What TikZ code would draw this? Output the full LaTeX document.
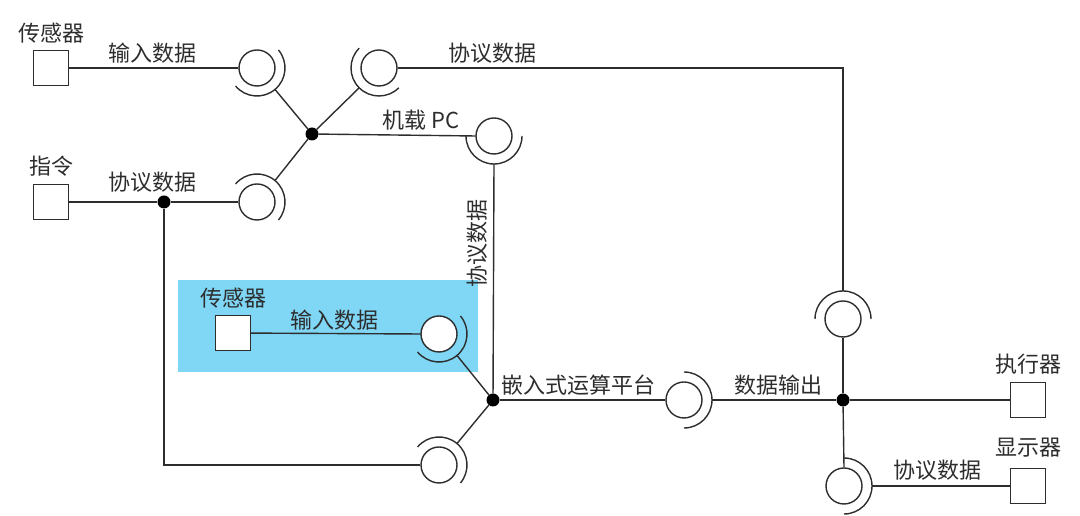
\documentclass[tikz,border=0pt]{standalone}
\usepackage{fontspec}
\setmainfont{Noto Sans CJK SC}
\usetikzlibrary{calc}
\definecolor{ln}{RGB}{45,45,45}
\definecolor{hl}{RGB}{127,214,245}
\newcommand\AsmConn[4]{%
  \node[ball] (#1) at (#2,#3) {};
  \draw[wire] ($(#1.center)+(#4+90:28)$) arc[start angle=#4+90, end angle=#4-90, radius=28];
  \coordinate (#1s) at ($(#1.center)+(#4:28)$);
}
\begin{document}
\begin{tikzpicture}[x=1pt,y=1pt,
  wire/.style={draw=ln, line width=1.4pt},
  dev/.style={draw=ln, line width=1.4pt, fill=white, rectangle, minimum size=35pt, inner sep=0pt},
  ball/.style={draw=ln, line width=1.4pt, fill=white, circle, minimum size=36pt, inner sep=0pt},
  hub/.style={fill=black, circle, minimum size=13pt, inner sep=0pt},
  lbl/.style={text=ln, font=\fontsize{22}{26}\selectfont, inner sep=0pt}]
\useasboundingbox (0,0) rectangle (1080,516);
% highlight
\fill[hl] (178,144) rectangle (478,236);
% devices
\node[dev] (s1) at (51,448) {};
\node[dev] (cmd) at (51,314) {};
\node[dev] (s2) at (233,183) {};
\node[dev] (act) at (1028,116) {};
\node[dev] (disp) at (1028,30) {};
% assembly connectors
\AsmConn{A1}{257}{448}{-50}
\AsmConn{A2}{257}{314}{50}
\AsmConn{A3}{379}{448}{-135}
\AsmConn{A4}{494}{380}{270}
\AsmConn{A5}{439}{182}{-50}
\AsmConn{A6}{439}{51}{50}
\AsmConn{A7}{843}{197}{90}
\AsmConn{A8}{684}{116}{0}
\AsmConn{A9}{844}{30}{0}
% hubs
\node[hub] (h1) at (312,382) {};
\node[hub] (h2) at (493,116) {};
\node[hub] (h3) at (843,116) {};
\node[hub] (j1) at (164,314) {};
\coordinate (c1) at (843,448);
\coordinate (c2) at (164,51);
% wires
\draw[wire] (s1) -- (A1.west);
\draw[wire] (cmd) -- (j1) -- (A2.west);
\draw[wire] (A1s) -- (h1);
\draw[wire] (A2s) -- (h1);
\draw[wire] (A3s) -- (h1);
\draw[wire] (h1) -- (A4.west);
\draw[wire] (A3.east) -- (c1) -- (A7s);
\draw[wire] (A4s) -- (h2);
\draw[wire] (s2) -- (A5.west);
\draw[wire] (A5s) -- (h2);
\draw[wire] (j1) -- (c2) -- (A6.west);
\draw[wire] (A6s) -- (h2);
\draw[wire] (h2) -- (A8.west);
\draw[wire] (A8s) -- (h3);
\draw[wire] (A7.south) -- (h3);
\draw[wire] (h3) -- (act);
\draw[wire] (h3) -- (A9.north);
\draw[wire] (A9s) -- (disp);
% labels
\node[lbl] (t1) at (52,483) {传感器};
\node[lbl] (t2) at (152,463) {输入数据};
\node[lbl] (t3) at (51,350) {指令};
\node[lbl] (t4) at (152,334) {协议数据};
\node[lbl] (t5) at (492,463) {协议数据};
\node[lbl] (t6) at (421,396) {机载 PC};
\node[lbl, rotate=90] (t7) at (477,272) {协议数据};
\node[lbl] (t8) at (233,218) {传感器};
\node[lbl] (t9) at (334,196) {输入数据};
\node[lbl] (t10) at (578,131) {嵌入式运算平台};
\node[lbl] (t11) at (778,131) {数据输出};
\node[lbl] (t12) at (1028,152) {执行器};
\node[lbl] (t13) at (1028,68) {显示器};
\node[lbl] (t14) at (937,46) {协议数据};
\end{tikzpicture}
\end{document}
